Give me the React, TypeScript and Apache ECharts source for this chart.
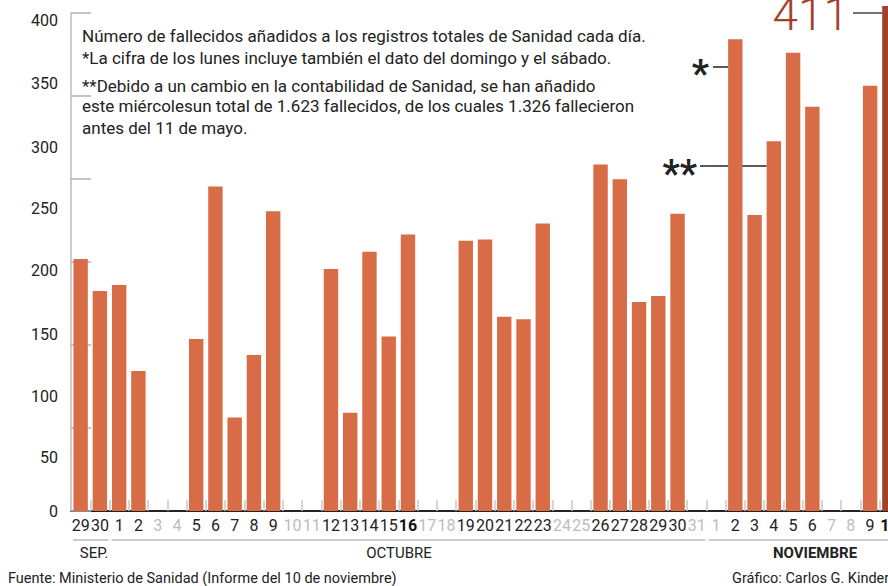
import React, { useEffect, useRef } from "react";
import * as echarts from "echarts";

const days = [
  "29", "30",
  "1", "2", "3", "4", "5", "6", "7", "8", "9", "10", "11", "12", "13", "14", "15", "16", "17", "18", "19", "20",
  "21", "22", "23", "24", "25", "26", "27", "28", "29", "30", "31",
  "1", "2", "3", "4", "5", "6", "7", "8", "9", "10",
];
// weekend / holiday days (drawn grey) by index
const greyIdx = [4, 5, 11, 12, 18, 19, 25, 26, 32, 33, 39, 40];
const boldIdx = [17, 42];
const deaths: (number | null)[] = [
  205, 179,
  184, 114, null, null, 140, 264, 76, 127, 244, null, null, 197, 80, 211, 142, 225, null, null, 220, 221,
  158, 156, 234, null, null, 282, 270, 170, 175, 242, null,
  null, 384, 241, 301, 373, 329, null, null, 346, 411,
];
const yTicks = [0, 50, 100, 150, 200, 250, 300, 350, 400];
const noteLines = [
  "Número de fallecidos añadidos a los registros totales de Sanidad cada día.",
  "*La cifra de los lunes incluye también el dato del domingo y el sábado.",
  "**Debido a un cambio en la contabilidad de Sanidad, se han añadido",
  "este miércolesun total de 1.623 fallecidos, de los cuales 1.326 fallecieron",
  "antes del 11 de mayo.",
];
const months = ["SEP.", "OCTUBRE", "NOVIEMBRE"];

const FONT = "Roboto, 'Noto Sans', sans-serif";
const ORANGE = "#D86C46";
const DARK = "#A3402A";
const INK = "#222222";

export default function App() {
  const ref = useRef<HTMLDivElement>(null);
  useEffect(() => {
    if (!ref.current) return;
    const chart = echarts.init(ref.current, null, { renderer: "svg" });
    const lastIdx = deaths.length - 1;
    const option: any = {
      animation: false,
      backgroundColor: "#ffffff",
      grid: [
        { left: 71, width: 828, top: 6, bottom: 75, outerBoundsMode: "none", containLabel: false },
        { left: 71, width: 828, top: 13, bottom: 75, outerBoundsMode: "none", containLabel: false },
      ],
      xAxis: [
        {
          type: "category",
          gridIndex: 0,
          data: days,
          axisLine: { show: true, lineStyle: { color: INK, width: 2 } },
          axisTick: { show: true, inside: true, length: 11, lineStyle: { color: "#c8c8c8", width: 1.5 } },
          axisLabel: {
            interval: 0,
            margin: 6,
            fontFamily: FONT,
            fontSize: 16,
            color: INK,
            formatter: (v: string, i: number) =>
              greyIdx.includes(i) ? `{g|${v}}` : boldIdx.includes(i) ? `{b|${v}}` : `{n|${v}}`,
            rich: {
              n: { color: INK, fontSize: 16, fontFamily: FONT },
              g: { color: "#bdbdbd", fontSize: 16, fontFamily: FONT },
              b: { color: "#111", fontSize: 16, fontFamily: FONT, fontWeight: "bold" },
            },
          },
          splitLine: { show: false },
        },
        { type: "category", gridIndex: 1, data: days, show: false },
      ],
      yAxis: [
        {
          type: "value",
          gridIndex: 0,
          min: 0,
          max: 411,
          interval: 50,
          axisLine: { show: false },
          axisTick: { show: false },
          splitLine: { show: false },
          axisLabel: {
            margin: 13,
            fontFamily: FONT,
            fontSize: 16,
            color: INK,
            formatter: (v: number) => {
              if (!yTicks.includes(v)) return "";
              if (v === 0) return `{z|${v}}`;
              if (v === 400) return `{t|${v}}`;
              if (v <= 150) return `{a|${v}}`;
              if (v <= 300) return `{m|${v}}`;
              return `{h|${v}}`;
            },
            rich: {
              z: { color: INK, fontSize: 16, fontFamily: FONT },
              t: { color: INK, fontSize: 16, fontFamily: FONT, padding: [2, 0, 0, 0] },
              a: { color: INK, fontSize: 16, fontFamily: FONT, padding: [16, 0, 0, 0] },
              m: { color: INK, fontSize: 16, fontFamily: FONT, padding: [10, 0, 0, 0] },
              h: { color: INK, fontSize: 16, fontFamily: FONT, padding: [6, 0, 0, 0] },
            },
          },
        },
        {
          type: "value",
          gridIndex: 1,
          min: 0,
          max: 405,
          interval: 67.5,
          axisLine: { show: true, lineStyle: { color: "#bcbcbc", width: 1.5 } },
          axisTick: { show: true, inside: true, length: 20, lineStyle: { color: "#b0b0b0", width: 1.5 } },
          axisLabel: { show: false },
          splitLine: { show: false },
        },
      ],
      series: [
        {
          type: "bar",
          xAxisIndex: 0,
          yAxisIndex: 0,
          barWidth: 14.4,
          z: 3,
          data: deaths.map((v, i) => ({
            value: v,
            itemStyle: { color: i === lastIdx ? DARK : ORANGE },
          })),
        },
      ],
    };
    chart.setOption(option);

    const px = (i: number, v: number) =>
      chart.convertToPixel({ xAxisIndex: 0, yAxisIndex: 0 }, [i, v]) as number[];
    const leftEdge = (i: number) => px(i, 0)[0] - 7.2;
    const step = px(1, 0)[0] - px(0, 0)[0];
    const bound = (i: number) => px(i, 0)[0] - step / 2;
    const top411 = px(lastIdx, deaths[lastIdx] as number);

    const textStyle = (extra: any) => ({ fontFamily: FONT, fill: INK, ...extra });
    const noteY = [36, 58, 86, 106, 128];
    const graphic: any[] = [];
    noteLines.forEach((t, k) => {
      graphic.push({
        type: "text",
        x: 82,
        y: noteY[k],
        z: 10,
        style: textStyle({ text: t, fontSize: 17, verticalAlign: "middle", align: "left" }),
      });
    });
    // month separator lines and labels
    const ranges = [
      [0, 2],
      [2, 33],
      [33, 43],
    ];
    const monthX = [94, 399, 815];
    ranges.forEach((r, k) => {
      graphic.push({
        type: "line",
        z: 1,
        shape: { x1: bound(r[0]) + 2, y1: 540, x2: bound(r[1]) - 1, y2: 540 },
        style: { stroke: "#bdbdbd", lineWidth: 1.5 },
      });
      graphic.push({
        type: "text",
        x: monthX[k],
        y: 553,
        style: textStyle({
          text: months[k],
          fontSize: 15,
          align: "center",
          verticalAlign: "middle",
          fontWeight: k === 2 ? "bold" : "normal",
        }),
      });
    });
    // asterisk markers
    graphic.push({
      type: "line",
      z: 1,
      shape: { x1: 713, y1: 67, x2: leftEdge(34), y2: 67 },
      style: { stroke: INK, lineWidth: 1.5 },
    });
    graphic.push({
      type: "text",
      x: 709,
      y: 74,
      style: textStyle({ text: "*", fontSize: 38, fontWeight: "bold", align: "right", verticalAlign: "middle" }),
    });
    graphic.push({
      type: "line",
      z: 1,
      shape: { x1: 700, y1: 166, x2: leftEdge(36), y2: 166 },
      style: { stroke: INK, lineWidth: 1.5 },
    });
    graphic.push({
      type: "text",
      x: 697,
      y: 174,
      style: textStyle({ text: "**", fontSize: 38, fontWeight: "bold", align: "right", verticalAlign: "middle" }),
    });
    // 411 highlight
    graphic.push({
      type: "line",
      z: 1,
      shape: { x1: 853, y1: top411[1] + 7, x2: leftEdge(lastIdx), y2: top411[1] + 7 },
      style: { stroke: "#444", lineWidth: 1.5 },
    });
    graphic.push({
      type: "text",
      x: 849,
      y: 37,
      style: textStyle({
        text: String(deaths[lastIdx]),
        fontSize: 46,
        fontWeight: 300,
        fill: DARK,
        align: "right",
        verticalAlign: "bottom",
      }),
    });
    // footer
    graphic.push({
      type: "text",
      x: 8,
      y: 578,
      style: textStyle({
        text: "Fuente: Ministerio de Sanidad (Informe del 10 de noviembre)",
        fontSize: 14.5,
        verticalAlign: "middle",
      }),
    });
    graphic.push({
      type: "text",
      x: 732,
      y: 578,
      style: textStyle({ text: "Gráfico: Carlos G. Kinder", fontSize: 14.5, verticalAlign: "middle" }),
    });
    chart.setOption({ graphic });

    return () => chart.dispose();
  }, []);
  return (
    <div
      ref={ref}
      style={{ position: "fixed", left: 0, top: 0, width: 888, height: 586, background: "#fff" }}
    />
  );
}
